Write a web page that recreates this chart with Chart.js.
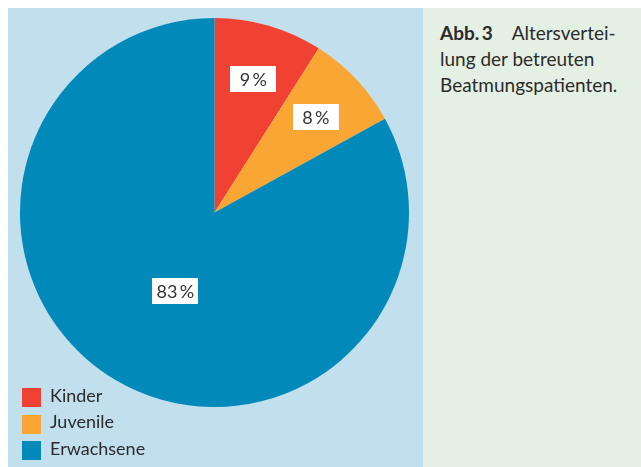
<!DOCTYPE html>
<html lang="de">
<head>
<meta charset="utf-8">
<title>Altersverteilung der betreuten Beatmungspatienten</title>
<script src="https://cdn.jsdelivr.net/npm/chart.js@4/dist/chart.umd.min.js"></script>
<style>
    html, body { margin: 0; padding: 0; background: #fff; }
    body { width: 641px; height: 467px; position: relative; overflow: hidden;
           font-family: Lato, "Open Sans", sans-serif; color: #2b2b2b; }
    .panel { position: absolute; left: 8px; top: 8px; width: 415px; height: 459px; background: #c2dfee; }
    .panel canvas { position: absolute; left: 0; top: 0; }
    .legend { position: absolute; left: 14px; top: 377.5px; margin: 0; padding: 0; list-style: none; }
    .legend li { height: 26.5px; line-height: 19px; font-size: 18px; position: relative; padding-left: 28px; }
    .legend li span { position: absolute; left: 0; top: 2.5px; width: 19px; height: 19px; }
    .caption { position: absolute; left: 423px; top: 8px; width: 218px; height: 459px; background: #e5f0e5; }
    .caption p { margin: 0; position: absolute; left: 17px; top: 11.5px; font-size: 19px; line-height: 26px; white-space: nowrap; }
    .caption b { margin-right: 19px; }
</style>
</head>
<body>
<div class="panel">
    <canvas id="pie" width="415" height="459"></canvas>
    <ul class="legend" id="legend"></ul>
</div>
<div class="caption">
    <p><b>Abb.&#8201;3</b>Altersvertei-<br>lung der betreuten<br>Beatmungspatienten.</p>
</div>
<script>
(function () {
    'use strict';

    var CATEGORIES = ['Kinder', 'Juvenile', 'Erwachsene'];
    var SHARES = [9, 8, 83];
    var COLORS = ['#f04132', '#f9a634', '#0089b9'];

    // white boxed percent labels inside the slices
    var boxLabels = {
        id: 'boxLabels',
        afterDatasetsDraw: function (chart) {
            var ctx = chart.ctx;
            var meta = chart.getDatasetMeta(0);
            ctx.save();
            ctx.font = '18px Lato, "Open Sans", sans-serif';
            ctx.textAlign = 'center';
            ctx.textBaseline = 'middle';
            meta.data.forEach(function (arc, i) {
                var p = arc.getProps(['x', 'y', 'startAngle', 'endAngle', 'outerRadius']);
                var mid = (p.startAngle + p.endAngle) / 2;
                var f = SHARES[i] < 50 ? 0.715 : 0.45;
                var off = SHARES[i] < 50 ? 0 : -0.07;
                var cx = p.x + Math.cos(mid + off) * p.outerRadius * f;
                var cy = p.y + Math.sin(mid + off) * p.outerRadius * f;
                ctx.fillStyle = '#ffffff';
                ctx.fillRect(Math.round(cx - 23), Math.round(cy - 13), 46, 26);
                ctx.fillStyle = '#333333';
                ctx.fillText(SHARES[i] + '\u2009%', cx, cy + 1);
            });
            ctx.restore();
        }
    };

    new Chart(document.getElementById('pie'), {
        type: 'pie',
        data: {
            labels: CATEGORIES,
            datasets: [{
                data: SHARES,
                backgroundColor: COLORS,
                borderWidth: 0,
                hoverOffset: 0
            }]
        },
        options: {
            responsive: false,
            animation: false,
            layout: { padding: { left: 12, right: 14, top: 10, bottom: 60 } },
            plugins: {
                legend: { display: false },
                tooltip: { enabled: false }
            }
        },
        plugins: [boxLabels]
    });

    var legend = document.getElementById('legend');
    for (var i = 0; i < CATEGORIES.length; i++) {
        var li = document.createElement('li');
        var sw = document.createElement('span');
        sw.style.background = COLORS[i];
        li.appendChild(sw);
        li.appendChild(document.createTextNode(CATEGORIES[i]));
        legend.appendChild(li);
    }
})();
</script>
</body>
</html>
